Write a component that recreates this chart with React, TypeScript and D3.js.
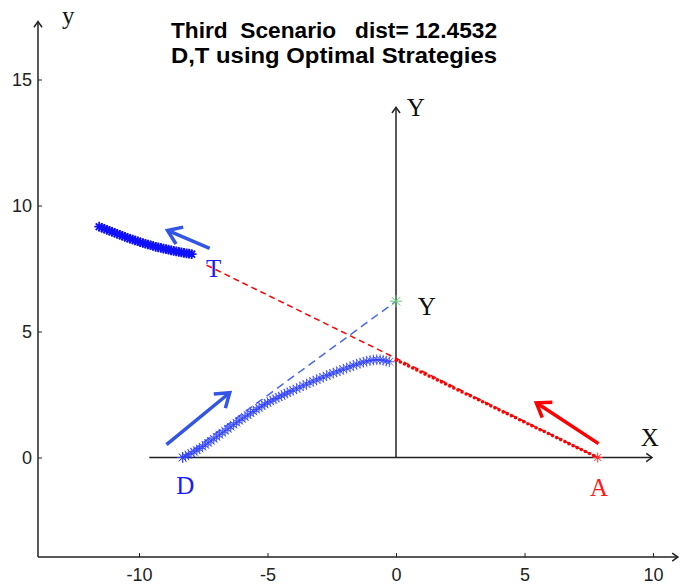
import React, { useEffect, useRef } from "react";
import * as d3 from "d3";

const title1 = "Third  Scenario   dist= 12.4532";
const title2 = "D,T using Optimal Strategies";
const xTicks = [-10, -5, 0, 5, 10];
const yTicks = [0, 5, 10, 15];

// D (defender) path
const dX = [-8.30, -8.19, -8.08, -7.97, -7.86, -7.75, -7.64, -7.53, -7.42, -7.31,
  -7.20, -7.09, -6.98, -6.87, -6.76, -6.65, -6.54, -6.43, -6.32, -6.21,
  -6.10, -5.99, -5.88, -5.77, -5.66, -5.55, -5.44, -5.33, -5.22, -5.11,
  -5.00, -4.89, -4.78, -4.67, -4.56, -4.45, -4.34, -4.23, -4.12, -4.00,
  -3.87, -3.74, -3.61, -3.48, -3.35, -3.22, -3.09, -2.96, -2.83, -2.70,
  -2.57, -2.44, -2.31, -2.18, -2.05, -1.92, -1.79, -1.66, -1.53, -1.40,
  -1.27, -1.14, -1.01, -0.88, -0.75, -0.62, -0.50, -0.38, -0.26];
const dY = [0.00, 0.05, 0.11, 0.17, 0.23, 0.29, 0.36, 0.43, 0.50, 0.58,
  0.66, 0.74, 0.82, 0.90, 0.98, 1.06, 1.14, 1.22, 1.30, 1.38,
  1.46, 1.53, 1.61, 1.68, 1.76, 1.83, 1.90, 1.97, 2.04, 2.11,
  2.17, 2.23, 2.29, 2.34, 2.40, 2.45, 2.51, 2.56, 2.62, 2.67,
  2.73, 2.79, 2.85, 2.91, 2.97, 3.03, 3.08, 3.14, 3.19, 3.25,
  3.30, 3.35, 3.40, 3.45, 3.50, 3.55, 3.60, 3.65, 3.70, 3.74,
  3.78, 3.82, 3.85, 3.87, 3.88, 3.88, 3.86, 3.83, 3.80];

// T (target) path
const tX = [-7.95, -8.05, -8.15, -8.25, -8.35, -8.45, -8.55, -8.65, -8.75, -8.85,
  -8.95, -9.05, -9.15, -9.25, -9.35, -9.45, -9.55, -9.65, -9.75, -9.85,
  -9.95, -10.05, -10.15, -10.25, -10.35, -10.45, -10.55, -10.65, -10.75, -10.85,
  -10.95, -11.05, -11.15, -11.25, -11.35, -11.45, -11.55];
const tY = [8.07, 8.09, 8.10, 8.12, 8.14, 8.16, 8.18, 8.20, 8.22, 8.25,
  8.27, 8.29, 8.32, 8.34, 8.36, 8.39, 8.42, 8.45, 8.48, 8.51,
  8.54, 8.58, 8.61, 8.65, 8.68, 8.72, 8.76, 8.80, 8.84, 8.88,
  8.92, 8.96, 9.00, 9.04, 9.08, 9.12, 9.16];

// A (attacker) path
const aX = [7.85, 7.69, 7.53, 7.37, 7.21, 7.05, 6.89, 6.73, 6.57, 6.41,
  6.25, 6.09, 5.93, 5.77, 5.61, 5.45, 5.29, 5.13, 4.97, 4.81,
  4.65, 4.49, 4.33, 4.17, 4.01, 3.85, 3.69, 3.53, 3.37, 3.21,
  3.05, 2.89, 2.73, 2.57, 2.41, 2.25, 2.09, 1.93, 1.77, 1.61,
  1.45, 1.29, 1.13, 0.97, 0.81, 0.65, 0.49, 0.33, 0.17, 0.01];
const aY = [0.00, 0.08, 0.16, 0.24, 0.32, 0.39, 0.47, 0.55, 0.63, 0.71,
  0.79, 0.87, 0.95, 1.03, 1.10, 1.18, 1.26, 1.34, 1.42, 1.50,
  1.58, 1.66, 1.74, 1.81, 1.89, 1.97, 2.05, 2.13, 2.21, 2.29,
  2.37, 2.45, 2.52, 2.60, 2.68, 2.76, 2.84, 2.92, 3.00, 3.08,
  3.16, 3.23, 3.31, 3.39, 3.47, 3.55, 3.63, 3.71, 3.79, 3.86];

const dStart = [-8.3, 0];
const aStart = [7.85, 0];
const tStart = [-7.5, 7.7];
const yPoint = [0, 6.2];

// direction arrows: x1, y1, x2, y2
const arrowT = [-7.25, 8.3, -8.89, 9.01];
const arrowD = [-8.93, 0.51, -6.47, 2.57];
const arrowA = [7.88, 0.55, 5.46, 2.17];

// axes extents
const frameLeft = -13.93, frameBottom = -3.95, frameTop = 17.3, frameRight = 10.97;
const innerLeft = -9.6, innerRight = 9.96, innerTop = 13.9;

function star(s) {
  const k = s * 0.707;
  return `M${-s},0H${s}M0,${-s}V${s}M${-k},${-k}L${k},${k}M${-k},${k}L${k},${-k}`;
}

function drawArrow(g, x1, y1, x2, y2, color, w, head, ang) {
  g.append("line")
    .attr("x1", x1).attr("y1", y1).attr("x2", x2).attr("y2", y2)
    .attr("stroke", color).attr("stroke-width", w);
  const th = Math.atan2(y1 - y2, x1 - x2);
  const a = ang * Math.PI / 180;
  const p1 = [x2 + head * Math.cos(th + a), y2 + head * Math.sin(th + a)];
  const p2 = [x2 + head * Math.cos(th - a), y2 + head * Math.sin(th - a)];
  g.append("path")
    .attr("d", `M${p1[0]},${p1[1]}L${x2},${y2}L${p2[0]},${p2[1]}`)
    .attr("fill", "none").attr("stroke", color).attr("stroke-width", w)
    .attr("stroke-linejoin", "miter");
}

export default function App() {
  const ref = useRef(null);
  const width = 683;
  const height = 587;

  useEffect(() => {
    const svg = d3.select(ref.current);
    svg.selectAll("*").remove();

    const x = d3.scaleLinear().domain([-14, 11]).range([36.2, 678.7]);
    const y = d3.scaleLinear().domain([0, 15]).range([457.5, 79.5]);
    const ink = "#222";

    // outer axes with arrows
    const frame = svg.append("g");
    drawArrow(frame, x(frameLeft), y(frameBottom), x(frameLeft), y(frameTop), ink, 1.5, 7, 35);
    drawArrow(frame, x(frameLeft), y(frameBottom), x(frameRight), y(frameBottom), ink, 1.5, 7, 35);

    const yAxis = svg.append("g")
      .attr("transform", `translate(${x(frameLeft)},0)`)
      .call(d3.axisLeft(y).tickValues(yTicks).tickFormat(d => String(d))
        .tickSizeInner(-4).tickSizeOuter(0).tickPadding(6));
    const xAxis = svg.append("g")
      .attr("transform", `translate(0,${y(frameBottom)})`)
      .call(d3.axisBottom(x).tickValues(xTicks).tickFormat(d => String(d))
        .tickSizeInner(-4).tickSizeOuter(0).tickPadding(11));
    [xAxis, yAxis].forEach(a => {
      a.select(".domain").remove();
      a.selectAll("line").attr("stroke", ink);
      a.selectAll("text")
        .attr("fill", ink)
        .style("font-family", "'Liberation Sans', Arial, sans-serif")
        .style("font-size", "18px");
    });

    // inner X / Y axes
    const inner = svg.append("g");
    drawArrow(inner, x(innerLeft), y(0), x(innerRight), y(0), ink, 1.5, 7, 35);
    drawArrow(inner, x(0), y(0), x(0), y(innerTop), ink, 1.5, 7, 35);

    // dashed sight lines
    svg.append("line")
      .attr("x1", x(aStart[0])).attr("y1", y(aStart[1]))
      .attr("x2", x(tStart[0])).attr("y2", y(tStart[1]))
      .attr("stroke", "#ff0000").attr("stroke-width", 1.5)
      .attr("stroke-dasharray", "6,4");
    svg.append("line")
      .attr("x1", x(dStart[0])).attr("y1", y(dStart[1]))
      .attr("x2", x(yPoint[0])).attr("y2", y(yPoint[1]))
      .attr("stroke", "#4a68ee").attr("stroke-width", 1.5)
      .attr("stroke-dasharray", "8,5");

    // A trajectory (dots)
    svg.append("g").selectAll("circle")
      .data(d3.zip(aX, aY))
      .join("circle")
      .attr("cx", d => x(d[0])).attr("cy", d => y(d[1]))
      .attr("r", 1.8).attr("fill", "#ff0000");

    // D trajectory (stars)
    svg.append("g").selectAll("path")
      .data(d3.zip(dX, dY))
      .join("path")
      .attr("transform", d => `translate(${x(d[0])},${y(d[1])})`)
      .attr("d", star(5.4))
      .attr("stroke", "#2a3cff").attr("stroke-width", 0.8).attr("fill", "none");

    // T trajectory (stars)
    svg.append("g").selectAll("path")
      .data(d3.zip(tX, tY))
      .join("path")
      .attr("transform", d => `translate(${x(d[0])},${y(d[1])})`)
      .attr("d", star(4.8))
      .attr("stroke", "#1010ff").attr("stroke-width", 1.8).attr("fill", "none");

    // start markers
    const marks = [
      { p: dStart, c: "#3344ff", s: 5.5 },
      { p: aStart, c: "#ff3333", s: 5 },
      { p: yPoint, c: "#66cc77", s: 6 },
    ];
    svg.append("g").selectAll("path")
      .data(marks)
      .join("path")
      .attr("transform", d => `translate(${x(d.p[0])},${y(d.p[1])})`)
      .attr("d", d => star(d.s))
      .attr("stroke", d => d.c).attr("stroke-width", 1).attr("fill", "none");

    // direction arrows
    const arr = svg.append("g");
    [[arrowT, "#3355e6"], [arrowD, "#3355e6"], [arrowA, "#ff0000"]].forEach(([a, c]) => {
      drawArrow(arr, x(a[0]), y(a[1]), x(a[2]), y(a[3]), c, 3.5, 16, 35);
    });

    // labels
    const serif = "'Liberation Serif', 'Times New Roman', serif";
    const labels = [
      { t: "y", px: -12.75, py: 17.55, c: "#111" },
      { t: "Y", px: 0.77, py: 13.9, c: "#111" },
      { t: "X", px: 9.87, py: 0.81, c: "#111" },
      { t: "Y", px: 1.2, py: 6.0, c: "#111" },
      { t: "D", px: -8.2, py: -1.09, c: "#1a1aff" },
      { t: "T", px: -7.1, py: 7.52, c: "#1a1aff" },
      { t: "A", px: 7.9, py: -1.17, c: "#ff1a1a" },
    ];
    svg.append("g").selectAll("text")
      .data(labels)
      .join("text")
      .attr("x", d => x(d.px)).attr("y", d => y(d.py))
      .attr("text-anchor", "middle")
      .attr("dy", "0.35em")
      .attr("fill", d => d.c)
      .style("font-family", serif)
      .style("font-size", "25px")
      .text(d => d.t);

    // title
    svg.append("g").selectAll("text")
      .data([title1, title2])
      .join("text")
      .attr("x", 334)
      .attr("y", (d, i) => 38 + i * 25)
      .attr("text-anchor", "middle")
      .attr("textLength", 326)
      .attr("lengthAdjust", "spacingAndGlyphs")
      .attr("fill", "#000")
      .style("white-space", "pre")
      .style("font-family", "'Liberation Sans', Arial, sans-serif")
      .style("font-weight", "bold")
      .style("font-size", "22px")
      .text(d => d);
  }, []);

  return (
    <svg ref={ref} width={width} height={height}
      style={{ position: "absolute", left: 0, top: 0, background: "#fff" }} />
  );
}
